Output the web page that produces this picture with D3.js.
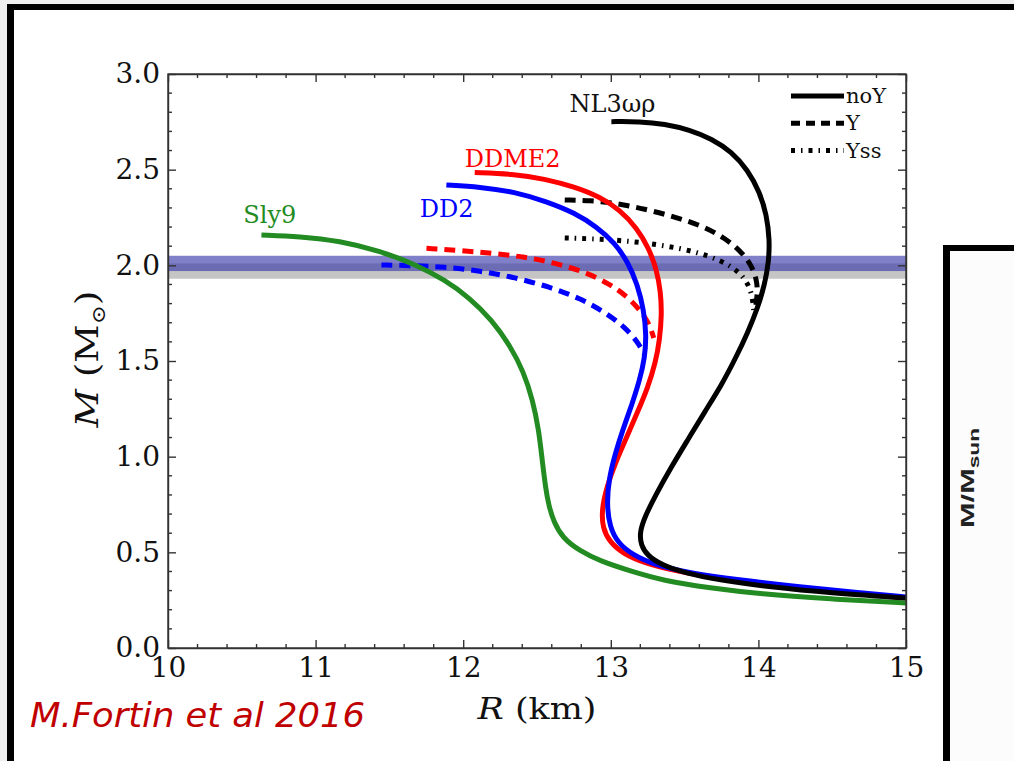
<!DOCTYPE html>
<html>
<head>
<meta charset="utf-8">
<script src="https://cdn.jsdelivr.net/npm/d3@7"></script>
<style>
    body { margin: 0; background: #efefef; }
    .axis path, .axis line { stroke: #333; stroke-width: 1.4; }
    .axis text { font-family: 'DejaVu Serif', serif; font-size: 28px; fill: #111; }
</style>
</head>
<body>
<div class="chart-container"></div>
<script>
// tick values
const xTicks = [10, 11, 12, 13, 14, 15];
const yTicks = [0, 0.5, 1.0, 1.5, 2.0, 2.5, 3.0];

// observational 2 Msun bands [low, high]
const bandJ0348 = [1.97, 2.05];
const bandJ1614 = [1.93, 2.01];

// mass-radius curves, [R (km), M (Msun)]
const sly9 = [[10.633, 2.159], [10.892, 2.151], [11.163, 2.128], [11.434, 2.075], [11.671, 2.007],
    [11.875, 1.924], [12.044, 1.830], [12.193, 1.715], [12.315, 1.584], [12.410, 1.443],
    [12.471, 1.296], [12.512, 1.140], [12.535, 0.983], [12.560, 0.826], [12.579, 0.748],
    [12.613, 0.659], [12.674, 0.575], [12.790, 0.507], [12.925, 0.455], [13.128, 0.403],
    [13.365, 0.350], [13.670, 0.314], [14.008, 0.282], [14.483, 0.256], [15.0, 0.235]];

const nl3NoY = [[13.004, 2.751], [13.196, 2.752], [13.365, 2.739], [13.534, 2.708], [13.684, 2.661],
    [13.819, 2.593], [13.927, 2.499], [14.008, 2.384], [14.056, 2.263], [14.076, 2.133],
    [14.070, 2.018], [14.042, 1.898], [13.995, 1.777], [13.927, 1.647], [13.846, 1.516],
    [13.751, 1.375], [13.636, 1.234], [13.521, 1.087], [13.406, 0.941], [13.304, 0.800],
    [13.230, 0.685], [13.196, 0.606], [13.203, 0.538], [13.250, 0.481], [13.345, 0.434],
    [13.501, 0.392], [13.738, 0.355], [14.076, 0.319], [14.483, 0.288], [15.0, 0.261]];
const nl3Y = [[12.688, 2.342], [12.857, 2.339], [13.026, 2.326], [13.229, 2.295], [13.433, 2.253],
    [13.623, 2.206], [13.772, 2.143], [13.887, 2.070], [13.955, 1.997], [13.989, 1.924],
    [13.995, 1.856], [13.982, 1.793]];
const nl3Yss = [[12.688, 2.143], [12.925, 2.138], [13.196, 2.122], [13.467, 2.091], [13.670, 2.049],
    [13.819, 1.997], [13.907, 1.934], [13.955, 1.861], [13.968, 1.767]];

const ddme2NoY = [[12.078, 2.485], [12.335, 2.478], [12.552, 2.452], [12.755, 2.410], [12.925, 2.358],
    [13.061, 2.290], [13.176, 2.196], [13.257, 2.091], [13.311, 1.976], [13.338, 1.861],
    [13.345, 1.741], [13.331, 1.610], [13.304, 1.495], [13.250, 1.359], [13.182, 1.234],
    [13.108, 1.103], [13.033, 0.972], [12.972, 0.842], [12.938, 0.721], [12.945, 0.627],
    [12.992, 0.554], [13.087, 0.491], [13.230, 0.444], [13.433, 0.403], [13.738, 0.361],
    [14.145, 0.324], [14.619, 0.287], [15.0, 0.262]];
const ddme2Y = [[11.751, 2.089], [11.976, 2.078], [12.200, 2.063], [12.417, 2.044], [12.620, 2.013],
    [12.823, 1.966], [12.993, 1.903], [13.115, 1.835], [13.210, 1.756], [13.264, 1.688],
    [13.291, 1.620]];

const dd2NoY = [[11.886, 2.420], [12.112, 2.410], [12.349, 2.384], [12.566, 2.333], [12.755, 2.274],
    [12.905, 2.201], [13.027, 2.117], [13.115, 2.018], [13.182, 1.898], [13.223, 1.767],
    [13.241, 1.636], [13.230, 1.516], [13.196, 1.401], [13.142, 1.270], [13.081, 1.140],
    [13.027, 1.009], [12.986, 0.878], [12.973, 0.748], [12.993, 0.633], [13.047, 0.549],
    [13.149, 0.486], [13.298, 0.434], [13.535, 0.392], [13.874, 0.355], [14.280, 0.319],
    [14.686, 0.288], [15.0, 0.267]];
const dd2Y = [[11.446, 2.002], [11.638, 1.999], [11.875, 1.992], [12.112, 1.971], [12.349, 1.937],
    [12.586, 1.887], [12.789, 1.829], [12.958, 1.756], [13.094, 1.678], [13.182, 1.600],
    [13.230, 1.532]];

const svg_width = 1014;
const svg_height = 761;
const chart_margin = { top: 74, right: 108, bottom: 113, left: 168 };
const chart_width = svg_width - (chart_margin.left + chart_margin.right);
const chart_height = svg_height - (chart_margin.top + chart_margin.bottom);

const svg = d3.select('.chart-container')
    .append('svg')
    .attr('width', svg_width)
    .attr('height', svg_height);

// slide background and frames
svg.append('rect').attr('x', 7).attr('y', 4).attr('width', 1014).attr('height', 800).style('fill', '#000');
svg.append('rect').attr('x', 14).attr('y', 10).attr('width', 1014).attr('height', 800).style('fill', '#fff');
svg.append('rect').attr('x', 943).attr('y', 245).attr('width', 100).attr('height', 600).style('fill', '#000');
svg.append('rect').attr('x', 950).attr('y', 251).attr('width', 100).attr('height', 600).style('fill', '#fcfcfc');

const side = svg.append('text')
    .attr('transform', 'translate(974,478) rotate(-90)')
    .attr('text-anchor', 'middle')
    .attr('textLength', 100)
    .attr('lengthAdjust', 'spacingAndGlyphs')
    .style('font-family', 'Liberation Sans, Arial, sans-serif')
    .style('font-weight', 'bold')
    .style('font-size', '19px')
    .style('fill', '#222');
side.append('tspan').text('M/M');
side.append('tspan').text('sun').attr('dy', 5).style('font-size', '14px');

const g = svg.append('g')
    .attr('transform', `translate(${chart_margin.left},${chart_margin.top})`);

const xScale = d3.scaleLinear([10, 15], [0, chart_width]);
const yScale = d3.scaleLinear([0, 3], [chart_height, 0]);

g.append('clipPath').attr('id', 'plot-clip')
    .append('rect').attr('width', chart_width).attr('height', chart_height);

const plot = g.append('g').attr('clip-path', 'url(#plot-clip)');

// bands
plot.append('rect')
    .attr('x', 0)
    .attr('y', yScale(bandJ1614[1]))
    .attr('width', chart_width)
    .attr('height', yScale(bandJ1614[0]) - yScale(bandJ1614[1]))
    .style('fill', 'rgba(150,150,150,0.55)');
plot.append('rect')
    .attr('x', 0)
    .attr('y', yScale(bandJ0348[1]))
    .attr('width', chart_width)
    .attr('height', yScale(bandJ0348[0]) - yScale(bandJ0348[1]))
    .style('fill', 'rgba(60,60,170,0.65)');

// smoothing spline through the read-off points
const line = d3.line()
    .x(d => xScale(d[0]))
    .y(d => yScale(d[1]))
    .curve(d3.curveBasis);

const curves = [
    { data: dd2Y, color: '#0000ff', dash: '11,7' },
    { data: ddme2Y, color: '#ff0000', dash: '11,7' },
    { data: nl3Y, color: '#000', dash: '11,7' },
    { data: nl3Yss, color: '#000', dash: '4,6,1.5,6' },
    { data: sly9, color: '#228b22', dash: null },
    { data: ddme2NoY, color: '#ff0000', dash: null },
    { data: dd2NoY, color: '#0000ff', dash: null },
    { data: nl3NoY, color: '#000', dash: null },
];

plot.selectAll('.curve')
    .data(curves)
    .enter()
    .append('path')
    .attr('class', 'curve')
    .attr('d', d => line(d.data))
    .style('fill', 'none')
    .style('stroke', d => d.color)
    .style('stroke-width', 5)
    .style('stroke-dasharray', d => d.dash);

// curve labels
const labels = [
    { text: 'Sly9', x: 10.51, y: 2.222, color: '#228b22' },
    { text: 'DD2', x: 11.705, y: 2.253, color: '#0000ff' },
    { text: 'DDME2', x: 12.01, y: 2.514, color: '#ff0000' },
    { text: 'NL3ωρ', x: 12.72, y: 2.80, color: '#111' },
];
g.selectAll('.curve-label')
    .data(labels)
    .enter()
    .append('text')
    .attr('class', 'curve-label')
    .attr('x', d => xScale(d.x))
    .attr('y', d => yScale(d.y))
    .text(d => d.text)
    .style('font-family', 'DejaVu Serif, serif')
    .style('font-size', '24px')
    .style('fill', d => d.color);

// axes
const xAxis = d3.axisBottom(xScale).tickValues(xTicks).tickFormat(d3.format('d'))
    .tickSizeInner(-8).tickSizeOuter(0).tickPadding(9);
const xAxisDraw = g.append('g').attr('class', 'x axis')
    .attr('transform', `translate(0,${chart_height})`)
    .call(xAxis);
const yAxis = d3.axisLeft(yScale).tickValues(yTicks).tickFormat(d3.format('.1f'))
    .tickSizeInner(-8).tickSizeOuter(0).tickPadding(8);
const yAxisDraw = g.append('g').attr('class', 'y axis').call(yAxis);
yAxisDraw.selectAll('text').attr('dy', '0.32em');

g.append('g').attr('class', 'axis')
    .call(d3.axisTop(xScale).tickValues(xTicks).tickFormat('').tickSizeInner(-8).tickSizeOuter(0));
g.append('g').attr('class', 'axis')
    .attr('transform', `translate(${chart_width},0)`)
    .call(d3.axisRight(yScale).tickValues(yTicks).tickFormat('').tickSizeInner(-8).tickSizeOuter(0));

// minor ticks
const xMinor = d3.range(10, 15.001, 0.2).filter(v => Math.abs(v - Math.round(v)) > 0.01);
const yMinor = d3.range(0, 3.001, 0.1).filter(v => Math.abs(v * 2 - Math.round(v * 2)) > 0.01);
const minor = g.append('g').attr('class', 'axis');
minor.selectAll('.xm-b').data(xMinor).enter().append('line')
    .attr('x1', d => xScale(d)).attr('x2', d => xScale(d))
    .attr('y1', chart_height).attr('y2', chart_height - 4);
minor.selectAll('.xm-t').data(xMinor).enter().append('line')
    .attr('x1', d => xScale(d)).attr('x2', d => xScale(d))
    .attr('y1', 0).attr('y2', 4);
minor.selectAll('.ym-l').data(yMinor).enter().append('line')
    .attr('y1', d => yScale(d)).attr('y2', d => yScale(d))
    .attr('x1', 0).attr('x2', 4);
minor.selectAll('.ym-r').data(yMinor).enter().append('line')
    .attr('y1', d => yScale(d)).attr('y2', d => yScale(d))
    .attr('x1', chart_width).attr('x2', chart_width - 4);

g.append('rect')
    .attr('width', chart_width).attr('height', chart_height)
    .style('fill', 'none').style('stroke', '#333').style('stroke-width', 1.4);

// legend
const legendItems = [
    { label: 'noY', dash: null },
    { label: 'Y', dash: '9,6' },
    { label: 'Yss', dash: '4,6,1.5,6' },
];
const legend = g.selectAll('.legend')
    .data(legendItems)
    .enter()
    .append('g')
    .attr('class', 'legend')
    .attr('transform', (d, i) => `translate(${chart_width - 115},${22 + i * 27.3})`);
legend.append('line')
    .attr('x1', 0).attr('x2', 53).attr('y1', 0).attr('y2', 0)
    .style('stroke', '#000').style('stroke-width', 5)
    .style('stroke-dasharray', d => d.dash);
legend.append('text')
    .attr('x', 55).attr('y', 7)
    .text(d => d.label)
    .style('font-family', 'DejaVu Serif, serif')
    .style('font-size', '21px')
    .style('fill', '#111');

// axis titles
const yTitle = svg.append('text')
    .attr('transform', 'translate(98,359) rotate(-90)')
    .attr('text-anchor', 'middle')
    .attr('textLength', 137)
    .attr('lengthAdjust', 'spacingAndGlyphs')
    .style('font-family', 'DejaVu Serif, serif')
    .style('font-size', '31px')
    .style('fill', '#111');
yTitle.append('tspan').text('M').style('font-style', 'italic');
yTitle.append('tspan').text(' (M');
yTitle.append('tspan').text('⊙').attr('dy', 7).style('font-size', '19px');
yTitle.append('tspan').text(')').attr('dy', -7);

const xTitle = svg.append('text')
    .attr('x', 537).attr('y', 719)
    .attr('text-anchor', 'middle')
    .attr('textLength', 119)
    .attr('lengthAdjust', 'spacingAndGlyphs')
    .style('font-family', 'DejaVu Serif, serif')
    .style('font-size', '30px')
    .style('fill', '#111');
xTitle.append('tspan').text('R').style('font-style', 'italic');
xTitle.append('tspan').text(' (km)');

// citation
svg.append('text')
    .attr('x', 30).attr('y', 727)
    .text('M.Fortin et al 2016')
    .attr('textLength', 335)
    .attr('lengthAdjust', 'spacingAndGlyphs')
    .style('font-family', 'DejaVu Sans, sans-serif')
    .style('font-style', 'italic')
    .style('font-size', '33px')
    .style('fill', '#c00000');
</script>
</body>
</html>
